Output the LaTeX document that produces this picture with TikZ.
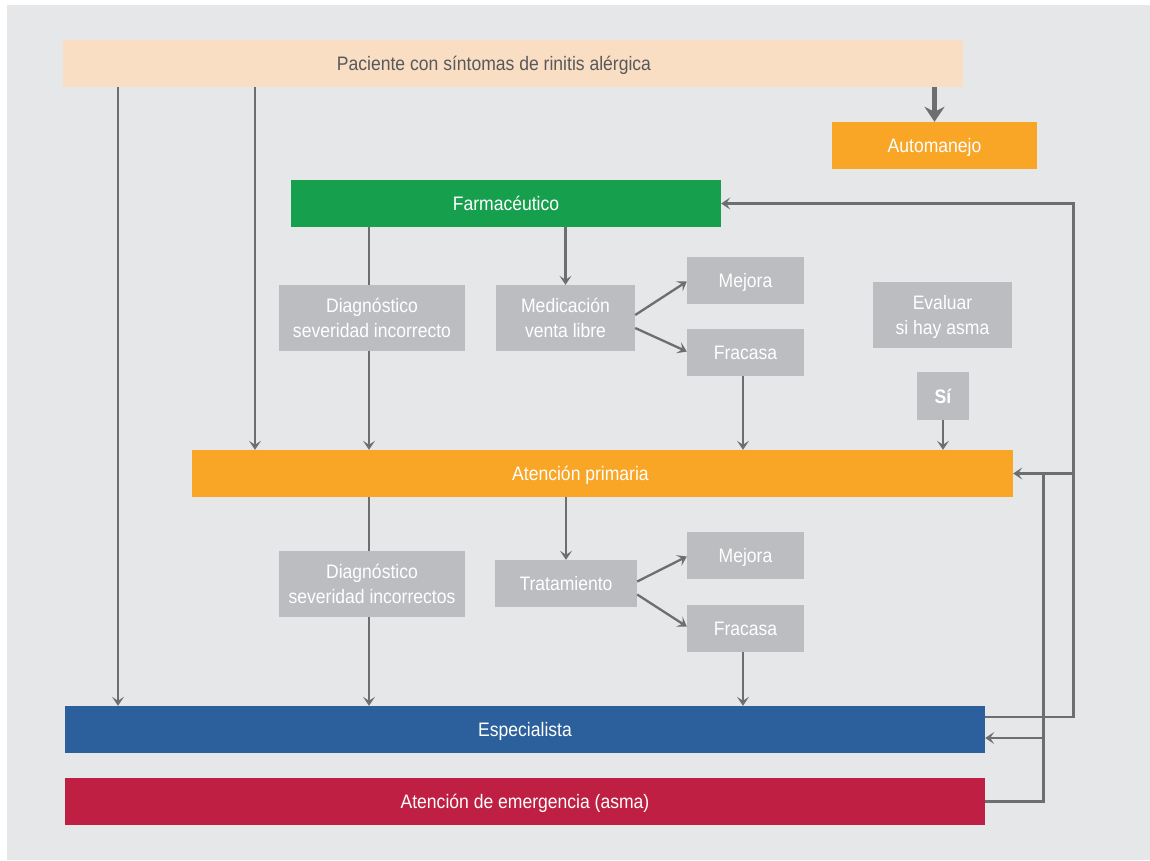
\documentclass[tikz,border=0pt]{standalone}
\usepackage{fontspec}
\setmainfont[FakeStretch=0.9]{Liberation Sans}
\usetikzlibrary{arrows.meta}
\definecolor{bgc}{HTML}{E6E7E8}
\definecolor{peach}{HTML}{F9DEC4}
\definecolor{orng}{HTML}{F9A526}
\definecolor{grn}{HTML}{169F4C}
\definecolor{gbox}{HTML}{BCBDC0}
\definecolor{blu}{HTML}{2B609D}
\definecolor{rd}{HTML}{BE1F42}
\definecolor{lc}{HTML}{6D6E70}
\definecolor{dtext}{HTML}{58595B}
\tikzset{
  bodyfont/.style={font=\fontsize{19.5}{25}\selectfont},
  box/.style={draw=none, inner sep=0pt, text=white, align=center, bodyfont,
    text height=14pt, text depth=0pt},
  twoline/.style={text height=39pt, text depth=0pt},
  lbl/.style={inner sep=0pt, bodyfont, text height=14pt, text depth=0pt},
  conn/.style={draw=lc, line width=2.3pt, -{Stealth[length=9pt,width=12pt,inset=4pt]}},
  plain/.style={draw=lc, line width=2.3pt},
  thick/.style={draw=lc, line width=5pt, -{Stealth[length=15pt,width=20pt,inset=5pt]}}
}
\begin{document}
\begin{tikzpicture}[x=1pt,y=-1pt]
\useasboundingbox (0,0) rectangle (1150,860);
\fill[bgc] (7,5) rectangle (1150,860);
% nodes
\node[box, fill=peach, minimum width=900, minimum height=47,
  label={[lbl, xshift=-19pt, text=dtext]center:Paciente con síntomas de rinitis alérgica}] (pac) at (513,63.5) {};
\node[box, fill=orng, minimum width=205, minimum height=47] (auto) at (934.5,145.5) {Automanejo};
\node[box, fill=grn, minimum width=430, minimum height=47] (farm) at (506,203.5) {Farmacéutico};
\node[box, twoline, fill=gbox, minimum width=186, minimum height=66] (d1) at (372,318) {Diagnóstico\\severidad incorrecto};
\node[box, twoline, fill=gbox, minimum width=139, minimum height=66] (med) at (565.5,318) {Medicación\\venta libre};
\node[box, fill=gbox, minimum width=117, minimum height=47] (mej1) at (745.5,280.5) {Mejora};
\node[box, fill=gbox, minimum width=117, minimum height=47] (fra1) at (745.5,352.5) {Fracasa};
\node[box, twoline, fill=gbox, minimum width=139, minimum height=66] (eva) at (942.5,315) {Evaluar\\si hay asma};
\node[box, fill=gbox, minimum width=52, minimum height=48, font=\fontsize{19.5}{25}\selectfont\bfseries] (si) at (943,396) {Sí};
\node[box, fill=orng, minimum width=821, minimum height=47,
  label={[lbl, xshift=-22pt, text=white]center:Atención primaria}] (ap) at (602.5,473.5) {};
\node[box, twoline, fill=gbox, minimum width=186, minimum height=66] (d2) at (372,584) {Diagnóstico\\severidad incorrectos};
\node[box, fill=gbox, minimum width=142, minimum height=47] (trat) at (566,583.5) {Tratamiento};
\node[box, fill=gbox, minimum width=117, minimum height=47] (mej2) at (745.5,555.5) {Mejora};
\node[box, fill=gbox, minimum width=117, minimum height=47] (fra2) at (745.5,628.5) {Fracasa};
\node[box, fill=blu, minimum width=920, minimum height=47] (esp) at (525,729.5) {Especialista};
\node[box, fill=rd, minimum width=920, minimum height=47] (em) at (525,801.5) {Atención de emergencia (asma)};
% helper coordinates
\coordinate (c118) at (118,0);
\coordinate (c255) at (255,0);
\coordinate (c369) at (369,0);
\coordinate (c743) at (743,0);
\coordinate (c1074) at (1073.5,0);
\coordinate (c1043) at (1043.5,0);
\coordinate (y717) at (0,717);
\coordinate (y738) at (0,738);
% connectors
\draw[thick] (pac.south -| auto) -- (auto.north);
\draw[conn] (pac.south -| c118) -- (esp.north -| c118);
\draw[conn] (pac.south -| c255) -- (ap.north -| c255);
\draw[plain] (farm.south -| c369) -- (d1.north -| c369);
\draw[conn] (d1.south -| c369) -- (ap.north -| c369);
\draw[conn] (farm.south -| med) -- (med.north);
\draw[conn] ([yshift=3pt]med.east) -- ([yshift=-1pt]mej1.west);
\draw[conn] ([yshift=-10pt]med.east) -- ([yshift=1pt]fra1.west);
\draw[conn] (fra1.south -| c743) -- (ap.north -| c743);
\draw[conn] (si.south) -- (ap.north -| si.south);
\draw[plain] (ap.south -| c369) -- (d2.north -| c369);
\draw[conn] (d2.south -| c369) -- (esp.north -| c369);
\draw[conn] (ap.south -| trat) -- (trat.north);
\draw[conn] ([yshift=2pt]trat.east) -- ([yshift=-1pt]mej2.west);
\draw[conn] ([yshift=-11pt]trat.east) -- ([yshift=2pt]fra2.west);
\draw[conn] (fra2.south -| c743) -- (esp.north -| c743);
% right side loops
\draw[conn] (esp.east |- y717) -- (c1074 |- y717) -- (c1074 |- farm.east) -- (farm.east);
\draw[conn] (c1074 |- ap.east) -- (ap.east);
\draw[plain] (em.east) -- (c1043 |- em.east) -- (c1043 |- ap.east);
\draw[conn] (c1043 |- y738) -- (esp.east |- y738);
\end{tikzpicture}
\end{document}
